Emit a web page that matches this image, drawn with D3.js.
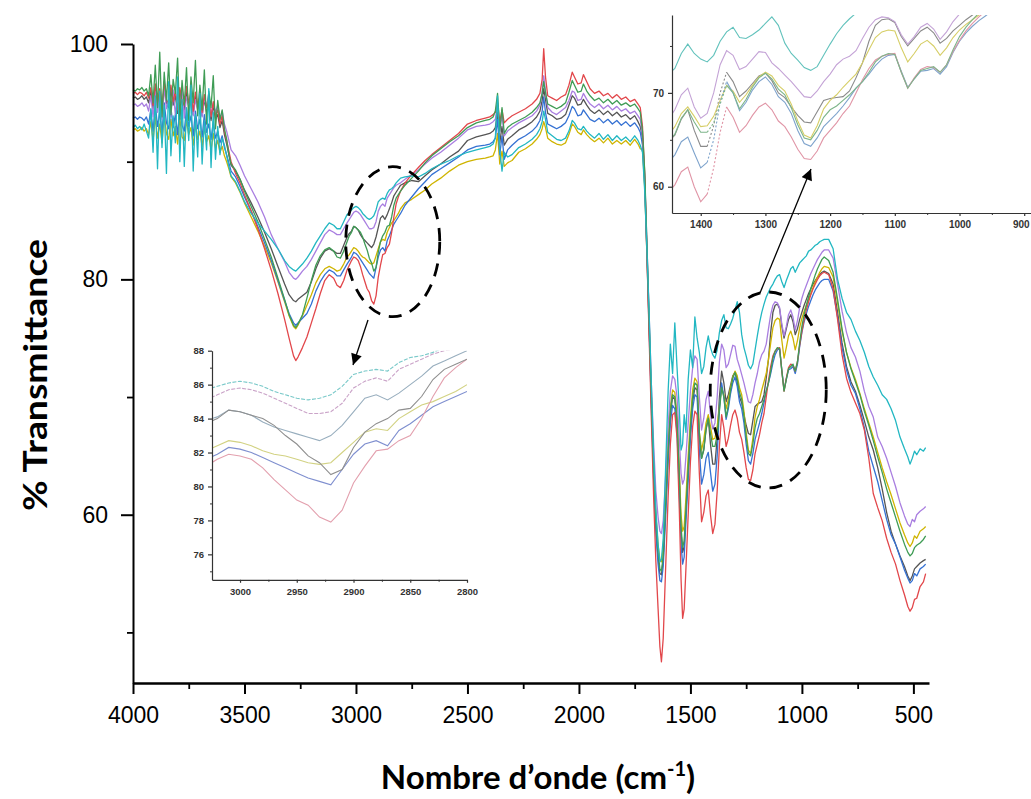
<!DOCTYPE html>
<html><head><meta charset="utf-8">
<script src="https://cdn.jsdelivr.net/npm/d3@7"></script>
<style>body{margin:0;background:#fff;} svg{display:block;}</style>
</head><body>
<svg id="chart" width="1031" height="799"></svg>
<script>
// ---- DATA ----
const wavenumbers = [
 4000,3990,3980,3970,3960,3950,3940,3930,3920,3910,3900,3890,3880,3870,3860,3850,3840,3830,3820,3810,3800,3790,3780,3770,3760,3750,3740,3730,3720,3710,3700,3690,3680,3670,3660,3650,3640,3630,3620,3610,3600,3590,3580,3570,3560,
 3540,3520,3500,3470,3440,3410,3380,3350,3320,3300,3280,3270,3260,3240,3220,3200,3180,3160,3140,3120,3100,3085,3070,3055,3040,
 3030,3020,3010,3000,2990,2980,2970,2960,2950,2940,2930,2920,2910,2900,2890,2880,2870,2860,2850,2840,2830,2820,2810,2800,
 2780,2750,2720,2690,2660,2620,2580,2540,2500,2460,2420,2400,2385,2375,2365,2355,2345,2335,2320,
 2300,2270,2240,2210,2190,2175,2165,2158,2150,2140,2120,2100,2080,2060,2045,2030,2020,2005,1990,1980,1965,1950,1930,1910,1890,1870,1850,1830,1810,1790,1770,1750,1735,1725,
 1715,1705,1695,1685,1675,1665,1655,1645,1637,1630,1622,1612,1600,1590,1580,1570,1560,1550,1542,1535,1528,1520,1510,1500,1490,1480,1470,1460,
 1450,1440,1430,1420,1410,1400,1390,1380,1370,1360,1350,1340,1330,1320,1310,1300,1290,1280,1270,1260,1250,1240,1230,1220,1210,1200,1190,1180,1170,1160,1150,1140,1130,1120,1110,1100,1090,1080,1070,1060,1050,1040,1030,1020,1010,1000,990,980,970,960,950,940,930,920,910,900,
 880,860,840,820,800,780,760,740,720,700,680,660,640,620,600,580,560,540,525,515,505,495,485,470,455,445
];

const red = [
 95.8,95.9,95.7,95.9,95.8,95.6,95.9,95.4,96.3,94.8,96.6,95.0,96.2,94.6,96.8,95.3,94.9,96.5,95.1,96.0,94.4,96.3,95.2,94.8,96.4,95.0,95.8,94.3,95.9,94.9,95.5,94.2,95.7,94.6,95.0,93.8,95.1,93.9,94.4,93.2,93.9,92.6,91.8,90.9,90.0,
 89.0,88.2,87.2,85.8,84.3,82.6,80.8,78.8,76.6,75.0,73.5,73.1,73.4,74.2,75.1,76.3,77.5,78.8,79.9,80.4,80.1,79.5,79.3,79.9,80.8,
 81.2,81.6,81.9,81.8,81.6,81.1,80.4,79.8,79.2,78.9,78.2,77.9,78.6,80.2,81.2,82.1,82.2,82.7,83.0,84.0,85.3,86.4,87.0,87.5,
 88.2,88.9,89.5,90.1,90.6,91.2,91.8,92.4,93.2,93.5,93.7,93.8,94.0,94.2,95.0,93.4,94.4,93.3,93.6,
 93.9,94.2,94.5,94.9,95.3,95.8,97.0,99.6,97.2,95.6,95.4,95.2,95.5,95.7,96.5,97.6,97.2,96.6,96.7,97.4,96.8,96.2,95.8,96.0,95.6,95.8,95.4,95.7,95.3,95.5,95.1,95.3,94.9,94.6,
 93.0,89.0,82.0,75.0,68.0,61.5,56.0,52.0,48.8,47.5,49.5,55.0,61.5,66.0,68.5,68.7,66.5,60.5,54.5,51.2,52.0,55.5,60.0,64.5,67.5,68.8,68.5,63.5,
 59.4,60.2,61.6,62.1,60.0,58.4,59.2,62.0,65.8,68.5,67.4,65.8,66.5,67.6,68.5,68.9,68.2,67.0,66.4,65.3,64.0,63.0,62.9,63.8,65.2,66.0,66.8,67.8,68.6,70.0,71.4,72.6,73.5,73.9,74.1,74.2,72.2,70.5,71.6,72.5,72.8,72.7,72.2,73.0,74.4,75.6,76.6,77.4,78.1,78.7,79.2,79.6,80.0,80.3,80.5,80.6,
 80.4,79.2,76.6,73.6,71.6,70.4,69.5,68.6,67.2,64.8,61.8,60.6,59.5,58.0,56.8,55.8,54.4,53.2,52.2,51.8,52.1,52.8,52.9,53.9,54.3,55.0
];

const green = [
 96.1,96.0,96.2,96.1,96.3,96.0,96.2,95.6,97.4,95.0,98.2,94.6,99.3,93.8,97.6,95.2,98.4,94.0,97.0,95.8,98.8,93.6,96.9,94.8,98.0,93.5,97.2,95.0,98.6,93.9,96.5,94.4,97.8,93.2,96.0,94.6,97.3,92.8,95.2,93.6,94.4,92.8,91.9,90.6,89.8,
 89.3,88.5,87.5,86.2,84.9,83.4,81.9,80.1,78.3,77.0,76.1,75.9,76.2,77.0,78.4,79.9,81.2,82.0,82.5,82.7,82.4,81.9,81.8,82.4,83.2,
 83.7,84.0,84.5,84.4,84.2,84.0,83.6,83.0,82.5,81.8,81.4,80.7,81.0,82.3,83.2,83.7,84.0,84.5,84.6,85.3,86.3,86.9,87.2,87.5,
 88.0,88.6,89.2,89.9,90.5,91.1,91.7,92.2,92.9,93.3,93.5,93.6,93.8,94.3,95.8,92.6,94.6,92.4,92.9,
 93.2,93.5,93.8,94.2,94.6,95.0,95.8,96.8,95.9,94.9,94.7,94.5,94.7,95.0,95.9,96.9,96.5,95.9,96.0,96.6,96.0,95.6,95.2,95.4,95.0,95.3,94.9,95.2,94.8,95.0,94.7,94.9,94.5,94.2,
 92.6,89.2,83.0,76.5,70.0,64.0,59.5,56.8,55.4,55.2,56.5,60.5,65.5,68.8,70.2,70.0,68.0,63.5,59.0,57.2,57.8,60.5,64.0,67.5,70.0,71.2,71.0,67.0,
 64.8,65.6,67.3,68.2,66.9,65.8,65.8,66.8,68.8,70.8,70.0,68.3,69.3,70.6,71.6,72.1,71.5,70.4,69.8,68.4,66.6,65.2,65.0,66.0,67.4,68.2,68.6,69.2,69.8,70.5,71.2,72.2,73.3,73.9,74.2,74.1,72.2,70.5,71.5,72.4,72.6,72.8,72.2,73.0,74.6,76.0,77.0,77.8,78.5,79.2,79.8,80.4,80.9,81.3,81.7,81.9,
 81.6,80.6,78.3,75.8,73.8,72.4,71.3,70.2,68.8,67.6,66.3,64.9,63.6,62.2,61.0,59.8,58.6,57.5,56.8,56.5,56.7,57.2,57.4,57.6,57.9,58.2
];

const purple = [
 94.8,94.9,94.7,94.8,95.0,94.7,94.9,94.3,95.6,93.8,96.0,94.2,95.8,93.6,96.3,94.5,95.2,93.9,96.1,94.0,95.7,94.6,96.4,93.7,95.5,94.8,96.0,93.9,95.3,94.4,96.2,93.8,95.4,94.7,95.8,93.9,95.0,94.2,94.8,93.6,94.3,93.2,92.6,91.8,91.0,
 90.5,89.7,88.8,87.7,86.6,85.3,83.8,82.6,81.5,80.6,80.1,80.0,80.2,80.7,81.1,81.7,82.4,83.1,83.8,84.2,84.0,83.8,83.8,84.3,84.8,
 85.1,85.4,85.7,85.8,85.7,85.5,85.2,84.9,84.6,84.3,84.3,84.4,84.9,85.8,86.2,86.4,86.2,86.9,87.2,87.5,87.8,88.0,88.1,88.2,
 88.5,88.9,89.3,89.8,90.3,90.8,91.4,92.0,92.7,93.0,93.1,93.2,93.4,93.6,94.8,92.5,94.0,92.2,92.6,
 92.9,93.3,93.6,93.9,94.3,94.8,95.9,97.3,96.0,94.6,94.2,94.0,94.3,94.6,95.2,96.0,95.9,95.2,95.3,95.8,95.3,94.9,94.6,94.9,94.5,94.8,94.4,94.7,94.3,94.5,94.1,94.3,93.9,93.6,
 92.2,88.8,83.0,77.0,71.0,66.0,62.0,59.8,58.6,58.4,59.5,63.0,67.5,70.5,71.8,71.5,70.0,66.5,63.5,62.6,63.0,65.0,67.8,70.5,72.5,73.5,73.2,70.0,
 67.2,68.2,69.8,70.5,68.5,67.3,67.8,70.0,73.0,74.5,74.0,72.5,72.8,73.6,74.4,74.3,73.2,72.6,71.9,71.2,70.4,69.6,69.5,70.2,71.2,72.0,73.0,73.6,73.9,74.5,75.8,77.0,77.8,78.1,78.0,77.6,76.2,75.2,76.0,77.0,77.4,76.8,75.7,76.5,77.6,78.4,79.0,79.5,80.0,80.5,80.9,81.3,81.7,82.0,82.3,82.5,
 82.5,81.8,79.6,77.3,75.5,74.2,73.4,72.2,70.5,69.2,68.3,66.6,65.8,64.8,63.6,62.4,61.0,59.9,59.2,59.0,59.6,59.4,60.0,60.3,60.5,60.7
];

const blue = [
 93.7,93.8,93.6,93.8,93.7,93.5,93.8,93.2,94.4,92.6,94.8,93.0,94.2,92.4,95.0,93.3,92.8,94.6,92.9,94.0,92.3,94.7,93.1,92.6,94.5,93.0,93.9,92.2,94.3,92.8,93.6,92.1,94.0,92.5,93.2,91.9,93.4,92.0,92.6,91.6,92.2,91.2,90.6,89.9,89.2,
 88.7,87.9,87.0,85.8,84.5,83.1,81.6,79.9,78.2,77.1,76.3,76.1,76.3,76.7,77.1,77.9,79.0,79.8,80.4,80.8,80.6,80.3,80.3,80.8,81.3,
 81.6,81.9,82.3,82.2,82.0,81.7,81.4,81.1,80.8,80.5,80.3,80.1,81.0,81.9,82.5,82.7,82.4,83.3,83.7,84.2,84.7,85.0,85.3,85.6,
 86.3,87.0,87.7,88.3,88.9,89.4,89.9,90.4,91.0,91.3,91.4,91.5,91.7,92.0,93.6,90.6,92.2,90.2,91.0,
 91.4,91.9,92.2,92.6,93.0,93.5,94.3,95.5,94.2,93.2,93.0,92.8,93.0,93.3,93.9,94.7,94.5,93.9,94.0,94.4,94.0,93.6,93.4,93.7,93.3,93.6,93.2,93.5,93.1,93.4,93.0,93.3,92.9,92.5,
 91.4,88.0,82.0,75.5,69.0,63.0,58.5,55.8,54.4,54.3,55.6,59.5,64.5,67.8,69.3,69.0,67.0,62.0,57.5,55.8,56.4,59.5,63.0,66.5,69.0,70.2,70.0,65.5,
 62.6,63.4,64.8,65.3,63.6,62.0,62.6,65.0,69.0,71.2,70.0,68.1,69.0,70.3,71.2,71.7,70.9,69.6,69.0,67.8,66.0,64.6,64.3,65.2,66.4,67.1,67.8,68.6,69.5,70.5,71.2,72.0,72.9,73.6,74.0,74.1,72.3,70.6,71.5,72.3,72.4,72.6,72.0,72.8,74.3,75.5,76.4,77.1,77.7,78.2,78.7,79.1,79.4,79.7,79.9,80.0,
 80.0,79.0,76.8,74.2,72.3,71.0,70.3,69.0,67.4,65.4,64.1,62.8,61.2,59.6,58.3,57.5,56.4,55.3,54.6,54.2,54.4,55.0,54.8,55.4,55.6,55.8
];

const cyan = [
 92.9,93.1,92.8,93.0,92.7,93.2,92.6,92.0,94.5,90.8,95.6,89.4,96.0,91.2,94.8,89.0,96.8,90.5,93.9,91.6,97.2,90.0,95.3,89.6,94.6,91.8,96.5,89.2,94.0,90.4,95.8,89.8,93.5,91.0,96.2,89.5,94.2,90.2,93.0,90.6,92.0,91.4,90.5,89.6,88.8,
 88.3,87.5,86.6,85.6,84.8,84.1,83.4,82.6,81.6,81.1,80.8,80.7,80.9,81.3,81.8,82.4,83.1,83.7,84.3,84.8,84.6,84.3,84.3,84.9,85.5,
 85.7,85.9,86.1,86.2,86.1,85.9,85.6,85.4,85.2,85.1,85.2,85.4,85.9,86.6,86.8,86.9,86.8,87.3,87.6,87.7,87.9,88.2,88.4,88.6,
 88.7,88.8,88.7,89.0,89.4,89.8,90.1,90.5,90.8,91.0,91.2,91.3,91.5,92.0,95.6,91.0,89.2,90.8,90.4,
 90.6,91.2,91.5,91.9,92.3,92.8,93.4,94.3,93.6,92.5,92.2,91.9,91.8,92.0,92.6,93.5,93.3,92.8,92.7,93.0,92.6,92.3,92.0,92.4,91.9,92.3,91.8,92.2,91.8,92.1,91.7,92.2,91.8,91.4,
 90.8,87.5,82.5,77.0,71.0,65.0,60.5,57.5,56.0,56.2,58.0,63.5,70.5,74.5,72.0,76.3,72.5,69.0,65.5,66.0,68.5,67.0,71.5,74.0,72.5,76.8,75.0,73.8,
 72.0,72.6,74.2,75.2,74.2,73.6,73.3,74.0,75.5,76.5,77.0,75.9,75.8,76.2,76.7,77.4,78.1,77.2,75.3,74.2,73.5,72.7,72.4,72.8,74.0,75.2,76.3,77.2,77.9,78.5,78.9,79.3,79.6,80.0,80.3,80.4,79.8,79.3,79.9,80.4,80.9,81.1,80.6,81.0,81.4,81.6,81.8,82.0,82.4,82.5,82.7,82.9,83.0,83.2,83.3,83.4,
 83.4,82.6,80.0,78.4,77.2,76.6,75.6,74.8,73.8,72.6,71.7,71.0,70.2,69.8,69.0,68.0,66.6,65.6,64.9,64.3,64.8,65.4,65.1,65.6,65.4,65.7
];

const yellow = [
 92.7,92.8,92.6,92.7,92.9,92.6,92.8,92.3,93.4,91.8,93.8,92.0,93.2,91.6,94.0,92.4,91.9,93.6,92.2,93.0,91.5,93.7,92.1,91.8,93.5,92.3,92.9,91.4,93.3,91.9,92.6,91.3,93.0,91.7,92.2,91.0,92.4,91.2,91.8,90.8,91.3,90.5,90.0,89.4,88.7,
 88.2,87.4,86.5,85.3,84.1,82.8,81.4,79.8,78.1,76.9,76.0,75.8,76.1,76.9,77.8,78.7,79.7,80.4,80.9,81.1,80.9,80.7,80.8,81.3,81.9,
 82.1,82.4,82.7,82.6,82.4,82.1,81.9,81.8,81.6,81.4,81.3,81.4,82.0,82.6,83.2,83.4,83.3,84.0,84.4,84.8,85.0,85.3,85.6,86.0,
 86.5,86.8,87.2,87.6,88.1,88.6,89.2,89.7,90.0,90.2,90.3,90.4,90.5,91.0,92.4,89.8,90.9,89.6,89.9,
 90.1,90.8,91.1,91.5,91.9,92.3,92.8,93.4,92.9,92.0,91.7,91.5,91.4,91.6,92.3,93.2,93.0,92.5,92.3,92.7,92.3,92.0,91.7,92.0,91.6,92.0,91.5,91.8,91.5,91.8,91.4,91.9,91.5,91.1,
 91.0,87.8,82.0,76.0,70.0,64.5,60.0,57.4,56.2,56.0,57.2,61.0,66.0,69.2,70.6,70.4,68.5,64.0,60.0,58.6,59.0,61.5,65.0,68.2,70.6,71.6,71.3,67.0,
 65.5,66.4,67.8,68.5,67.5,66.4,66.5,67.5,69.2,70.8,70.2,69.0,69.8,70.8,71.7,72.2,71.8,70.8,70.2,68.8,67.0,65.5,65.2,66.5,68.3,69.2,69.8,70.6,71.3,72.0,73.2,74.6,75.9,76.5,76.7,76.6,74.8,73.3,74.2,75.2,75.6,75.0,74.0,74.8,75.9,76.7,77.3,77.8,78.3,78.8,79.3,79.8,80.2,80.6,80.9,81.1,
 81.0,80.2,78.0,75.6,73.8,72.5,71.5,70.3,69.0,67.8,66.6,65.3,64.0,62.8,61.7,60.5,59.3,58.3,57.6,57.3,57.6,58.2,58.0,58.6,58.8,59.0
];

const gray = [
 95.4,95.5,95.3,95.4,95.6,95.3,95.5,95.0,96.0,94.5,96.3,94.8,95.9,94.3,96.4,95.0,94.6,96.1,94.8,95.6,94.1,96.0,94.9,94.4,95.9,94.7,95.4,94.0,95.6,94.5,95.1,93.9,95.3,94.2,94.7,93.5,94.8,93.6,94.0,92.9,93.5,92.3,91.5,90.6,89.7,
 89.2,88.5,87.6,86.5,85.3,84.0,82.6,81.1,79.6,78.7,78.2,78.1,78.3,78.6,78.9,79.8,80.9,81.8,82.4,82.6,82.4,82.2,82.2,82.9,83.6,
 83.9,84.1,84.5,84.4,84.2,83.8,83.5,83.3,83.1,82.9,82.7,83.0,83.6,84.4,85.2,85.4,85.1,85.5,86.0,86.5,87.1,87.4,87.7,88.0,
 88.2,88.4,88.3,88.8,89.3,89.8,90.4,90.9,91.8,92.1,92.3,92.4,92.6,92.9,94.2,91.6,93.0,91.4,91.9,
 92.2,92.7,93.0,93.4,93.8,94.3,95.2,96.2,95.3,94.1,93.9,93.6,93.7,94.0,94.8,95.6,95.4,94.8,94.9,95.3,94.8,94.4,94.1,94.4,94.0,94.3,93.9,94.2,93.8,94.0,93.6,93.9,93.4,93.0,
 92.0,88.5,82.5,76.0,69.5,63.5,59.0,56.3,55.0,54.9,56.2,60.2,65.2,68.5,70.0,69.8,67.8,63.0,58.5,56.8,57.3,60.2,63.8,67.0,69.6,70.8,70.6,66.5,
 64.8,65.5,67.2,68.2,66.0,64.3,64.3,66.5,70.0,72.2,71.2,69.6,70.2,71.0,71.8,72.1,71.3,70.0,69.5,68.5,67.6,66.9,66.8,68.0,69.2,69.4,69.5,69.6,70.2,71.6,73.2,75.5,77.2,77.8,77.9,77.5,76.0,75.0,75.8,76.6,77.0,76.4,75.3,75.8,76.6,77.2,77.8,78.3,78.8,79.2,79.6,79.9,80.2,80.4,80.6,80.7,
 80.5,79.6,77.2,74.6,72.6,71.3,70.5,69.3,68.0,66.6,65.5,64.0,62.2,60.2,58.6,57.5,56.5,55.6,54.8,54.4,54.8,55.4,55.6,55.9,56.1,56.2
];

const seriesOrder = ["gray","yellow","blue","purple","red","green","cyan"];
const seriesValues = {red, green, purple, blue, cyan, yellow, gray};
const mainColors = {red:"#e2474b", green:"#3f9c55", purple:"#a97ee0", blue:"#3571d3", cyan:"#22b7c2", yellow:"#cfb400", gray:"#555555"};
const inset1Colors = {red:"#e095a6", green:"#7db58a", purple:"#c4a3d6", blue:"#7ea3cc", cyan:"#62c2bc", yellow:"#d6ce66", gray:"#8a8a8a"};
const inset2Colors = {red:"#e3a0ae", green:"#8f8f8f", purple:"#caa3c8", blue:"#7f8fcf", cyan:"#79c9c9", yellow:"#d2d283", gray:"#98aebe"};

const xMajorTicks = [4000,3500,3000,2500,2000,1500,1000,500];
const xMinorTicks = [3750,3250,2750,2250,1750,1250,750];
const yMajorTicks = [100,80,60];
const yMinorTicks = [90,70,50];
const in1XTicks = [1400,1300,1200,1100,1000,900];
const in1XMinor = [1350,1250,1150,1050,950];
const in1YTicks = [60,70];
const in1YMinor = [65,75];
const in2XTicks = [3000,2950,2900,2850,2800];
const in2XMinor = [2975,2925,2875,2825];
const in2YTicks = [76,78,80,82,84,86,88];
const in2YMinor = [75,77,79,81,83,85,87];

// ---- DRAW ----
const svg = d3.select("#chart");
const FONT = "'Liberation Sans', Arial, sans-serif";
const points = k => d3.zip(wavenumbers, seriesValues[k]).map(([w,v]) => ({w, v}));

const x = d3.scaleLinear().domain([4000, 430]).range([133, 929]);
const y = d3.scaleLinear().domain([45.7, 100]).range([683, 44]);

const mainLine = d3.line().x(d => x(d.w)).y(d => y(d.v));
seriesOrder.forEach(k => {
  svg.append("path").datum(points(k)).attr("d", mainLine)
    .attr("fill","none").attr("stroke", mainColors[k]).attr("stroke-width", 1.3)
    .attr("stroke-linejoin","round");
});

// main axes
const gx = svg.append("g").attr("transform","translate(0,683)")
  .call(d3.axisBottom(x).tickValues(xMajorTicks).tickSize(11).tickSizeOuter(0).tickPadding(13).tickFormat(d3.format("d")));
gx.select(".domain").attr("stroke-width", 2.6);
gx.selectAll(".tick line").attr("stroke-width", 2);
gx.attr("font-size", 23).attr("font-family", FONT);
gx.selectAll("text").attr("fill","#000");
const gx2 = svg.append("g").attr("transform","translate(0,683)")
  .call(d3.axisBottom(x).tickValues(xMinorTicks).tickSize(6).tickFormat(""));
gx2.select(".domain").remove();
gx2.selectAll(".tick line").attr("stroke-width", 1.8);

const gy = svg.append("g").attr("transform","translate(133,0)")
  .call(d3.axisLeft(y).tickValues(yMajorTicks).tickSize(12).tickSizeOuter(0).tickPadding(13));
gy.select(".domain").attr("stroke-width", 2);
gy.selectAll(".tick line").attr("stroke-width", 2);
gy.attr("font-size", 23).attr("font-family", FONT);
gy.selectAll("text").attr("fill","#000");
const gy2 = svg.append("g").attr("transform","translate(133,0)")
  .call(d3.axisLeft(y).tickValues(yMinorTicks).tickSize(6).tickFormat(""));
gy2.select(".domain").remove();
gy2.selectAll(".tick line").attr("stroke-width", 1.8);

// titles
svg.append("text").attr("transform","translate(47,375) rotate(-90)")
  .attr("text-anchor","middle").attr("font-family","Lato, 'Open Sans', sans-serif")
  .attr("font-weight","bold").attr("font-size",32).attr("fill","#000")
  .attr("textLength",272).attr("lengthAdjust","spacingAndGlyphs")
  .text("% Transmittance");
const xt = svg.append("text").attr("x",538).attr("y",789).attr("text-anchor","middle")
  .attr("font-family","Lato, 'Open Sans', sans-serif").attr("font-weight","bold")
  .attr("font-size",33).attr("fill","#000");
xt.append("tspan").text("Nombre d’onde (cm");
xt.append("tspan").attr("font-size",20).attr("dy",-13).text("-1");
xt.append("tspan").attr("dy",13).text(")");

// ---- insets ----
function drawInset(cfg) {
  const xs = d3.scaleLinear().domain(cfg.xDomain).range(cfg.xRange);
  const ys = d3.scaleLinear().domain(cfg.yDomain).range(cfg.yRange);
  const id = cfg.id;
  svg.append("clipPath").attr("id", id).append("rect")
    .attr("x", cfg.xRange[0]).attr("y", cfg.yRange[1])
    .attr("width", cfg.xRange[1]-cfg.xRange[0]).attr("height", cfg.yRange[0]-cfg.yRange[1]);
  const g = svg.append("g").attr("clip-path", `url(#${id})`);
  const lo = Math.min(...cfg.xDomain) - 15, hi = Math.max(...cfg.xDomain) + 15;
  seriesOrder.forEach(k => {
    const pts = points(k).filter(d => d.w >= lo && d.w <= hi);
    const ln = d3.line().x(d => xs(d.w)).y(d => ys(d.v));
    if (cfg.dashRange && cfg.dashKeys.includes(k)) {
      const [a,b] = cfg.dashRange;
      g.append("path").datum(pts).attr("d", ln.defined(d => d.w >= b || d.w <= a))
        .attr("fill","none").attr("stroke", cfg.colors[k]).attr("stroke-width", 1.1);
      g.append("path").datum(pts.filter(d => d.w >= a && d.w <= b))
        .attr("d", d3.line().x(d => xs(d.w)).y(d => ys(d.v)))
        .attr("fill","none").attr("stroke", cfg.colors[k]).attr("stroke-width", 1.1)
        .attr("stroke-dasharray","2 2");
    } else {
      g.append("path").datum(pts).attr("d", ln)
        .attr("fill","none").attr("stroke", cfg.colors[k]).attr("stroke-width", 1.1)
        .attr("stroke-dasharray", cfg.dashAll && cfg.dashAll.includes(k) ? "4 1.5" : null);
    }
  });
  const axCol = "#333";
  const bx = svg.append("g").attr("transform",`translate(0,${cfg.yRange[0]})`)
    .call(d3.axisBottom(xs).tickValues(cfg.xTicks).tickSize(3).tickSizeOuter(0).tickPadding(cfg.xPad).tickFormat(d3.format("d")));
  bx.attr("font-size", cfg.fs).attr("font-family", FONT).attr("font-weight","bold");
  bx.selectAll("text").attr("fill","#333");
  bx.selectAll("path,line").attr("stroke", axCol).attr("stroke-width",1.2);
  // keep edge labels inside the picture
  bx.selectAll("text").each(function(){
    const bb = this.getBBox(), m = this.getCTM();
    const right = m.e + bb.x + bb.width;
    if (right > 1030) d3.select(this).attr("dx", 1030 - right);
  });
  const bx2 = svg.append("g").attr("transform",`translate(0,${cfg.yRange[0]})`)
    .call(d3.axisBottom(xs).tickValues(cfg.xMinor).tickSize(2).tickFormat(""));
  bx2.select(".domain").remove();
  bx2.selectAll("line").attr("stroke", axCol);
  const ly = svg.append("g").attr("transform",`translate(${cfg.xRange[0]},0)`)
    .call(d3.axisLeft(ys).tickValues(cfg.yTicks).tickSize(4).tickSizeOuter(0).tickPadding(4).tickFormat(d3.format("d")));
  ly.attr("font-size", cfg.fs).attr("font-family", FONT).attr("font-weight","bold");
  ly.selectAll("text").attr("fill","#333");
  ly.selectAll("path,line").attr("stroke", axCol).attr("stroke-width",1.2);
  const ly2 = svg.append("g").attr("transform",`translate(${cfg.xRange[0]},0)`)
    .call(d3.axisLeft(ys).tickValues(cfg.yMinor).tickSize(2).tickFormat(""));
  ly2.select(".domain").remove();
  ly2.selectAll("line").attr("stroke", axCol);
}

drawInset({id:"clip1", xDomain:[1444.4, 889.5], xRange:[672, 1031], yDomain:[57.2, 78.3], yRange:[213, 15],
  xTicks:in1XTicks, xMinor:in1XMinor, yTicks:in1YTicks, yMinor:in1YMinor, colors:inset1Colors, fs:10, xPad:5,
  dashRange:[1360,1390], dashKeys:["red","gray","blue","green"]});
drawInset({id:"clip2", xDomain:[3024.7, 2800], xRange:[212, 467], yDomain:[74.5, 88], yRange:[579.8, 350.7],
  xTicks:in2XTicks, xMinor:in2XMinor, yTicks:in2YTicks, yMinor:in2YMinor, colors:inset2Colors, fs:9.5, xPad:5,
  dashAll:["cyan","purple"]});

// ---- annotations ----
svg.append("defs").append("marker").attr("id","ah").attr("viewBox","0 0 10 10")
  .attr("refX",10).attr("refY",5).attr("markerWidth",13).attr("markerHeight",11)
  .attr("markerUnits","userSpaceOnUse").attr("orient","auto")
  .append("path").attr("d","M0,0 L10,5 L0,10 z").attr("fill","#000");

svg.append("ellipse").attr("cx", x(2835)).attr("cy", y(83.2)).attr("rx",47).attr("ry",75)
  .attr("fill","none").attr("stroke","#000").attr("stroke-width",2.8).attr("stroke-dasharray","13 9");
svg.append("ellipse").attr("cx", x(1151)).attr("cy", y(70.6)).attr("rx",58).attr("ry",98)
  .attr("fill","none").attr("stroke","#000").attr("stroke-width",2.8).attr("stroke-dasharray","13 9");

svg.append("line").attr("x1",368).attr("y1",320).attr("x2",353).attr("y2",365)
  .attr("stroke","#000").attr("stroke-width",1.3).attr("marker-end","url(#ah)");
svg.append("line").attr("x1",760).attr("y1",293).attr("x2",811).attr("y2",169)
  .attr("stroke","#000").attr("stroke-width",1.3).attr("marker-end","url(#ah)");
</script>
</body></html>
